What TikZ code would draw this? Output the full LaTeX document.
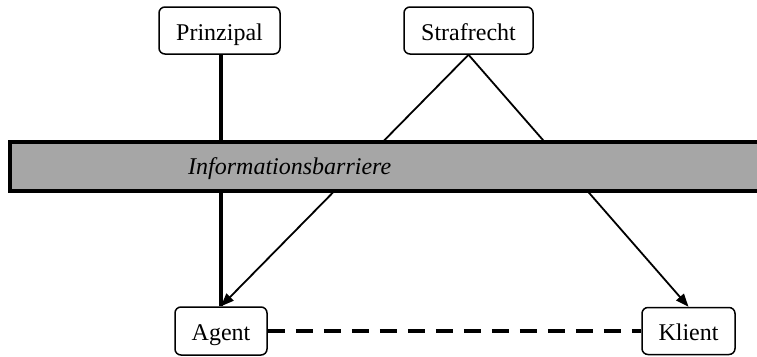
\documentclass[tikz,border=0pt]{standalone}
\usepackage{fontspec}
\setmainfont{Liberation Serif}
\usetikzlibrary{arrows.meta}
\definecolor{barfill}{HTML}{A6A6A6}
\tikzset{
  box/.style={draw=black, line width=1.5pt, rounded corners=6pt, fill=white, inner sep=0pt,
    text height=19pt, text depth=0pt, font=\fontsize{24}{28}\selectfont},
  thin/.style={line width=1.8pt, -{Triangle[length=13pt,width=10pt]}},
  thickline/.style={line width=4pt},
  dashline/.style={line width=4pt, dash pattern=on 17pt off 11pt},
}
\begin{document}
\begin{tikzpicture}[x=1pt,y=-1pt]
\useasboundingbox (0,0) rectangle (757,356);
\clip (0,0) rectangle (757,356);
\node[box, minimum width=121pt, minimum height=47pt] (p) at (219.5,30.5) {Prinzipal};
\node[box, minimum width=129pt, minimum height=47pt] (s) at (468.5,30.5) {Strafrecht};
\node[box, minimum width=92pt, minimum height=48pt] (a) at (221,331) {Agent};
\node[box, minimum width=93pt, minimum height=47pt] (k) at (688.5,331) {Klient};
\draw[thickline] (p.south -| a.north) -- (a.north);
\draw[thin] (s.south) -- (a.north);
\draw[thin] (s.south) -- (k.north);
\draw[dashline] (a.east) -- (k.east -| k.west);
% barrier
\fill[barfill] (10,142) rectangle (770,191);
\draw[line width=4pt] (770,142) -- (10,142) -- (10,191) -- (770,191);
\node[font=\fontsize{24}{28}\selectfont\itshape, inner sep=0pt, anchor=base west] (b) at (188,174) {Informationsbarriere};
\end{tikzpicture}
\end{document}
